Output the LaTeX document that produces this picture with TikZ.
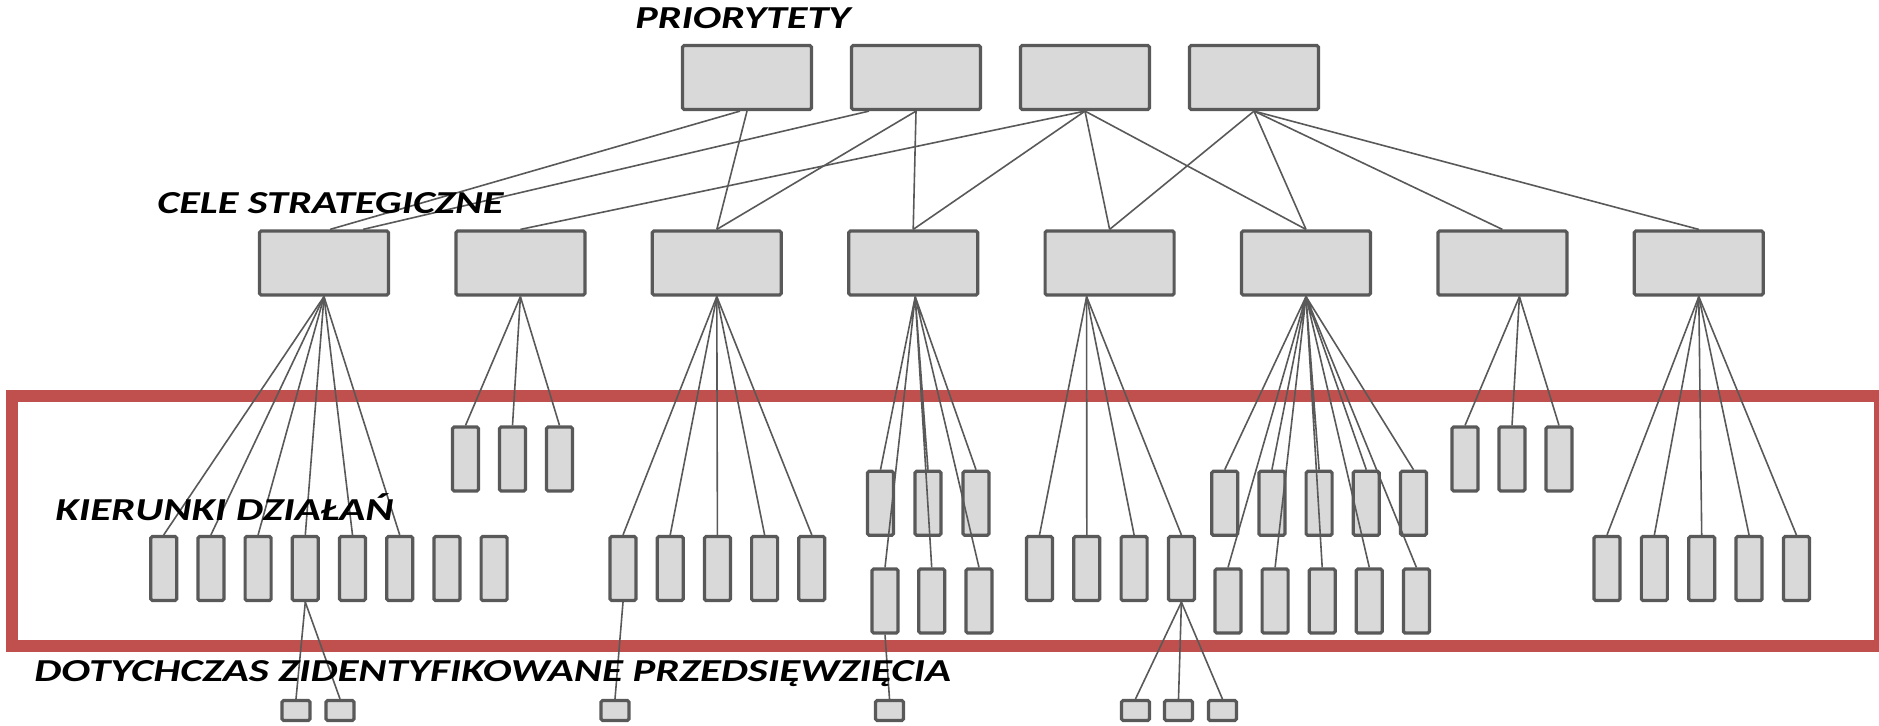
\documentclass[tikz,border=0pt]{standalone}
\usepackage{fontspec}
\usepackage{graphicx}
\newfontfamily\lblfont{Carlito}
\definecolor{boxfill}{HTML}{D9D9D9}
\definecolor{boxline}{HTML}{595959}
\definecolor{frame}{HTML}{C0504D}

\begin{document}
\begin{tikzpicture}[x=0.5pt, y=-0.5pt,
    box/.style={draw=boxline, fill=boxfill, line width=1.6pt, rounded corners=0.8pt, inner sep=0pt},
    big/.style={box, minimum width=64.5pt, minimum height=32pt},
    act/.style={box, minimum width=13pt, minimum height=32pt},
    proj/.style={box, minimum width=14pt, minimum height=10pt},
    link/.style={draw=boxline, line width=0.8pt},
    lbl/.style={anchor=base west, inner sep=0pt, font=\lblfont\bfseries\itshape\fontsize{16}{19}\selectfont}]
  \useasboundingbox (0,0) rectangle (1879,725);

  % frame round the KIERUNKI level
  \draw[frame, line width=5.75pt] (12,396) rectangle (1880,646);

  % priorities and strategic goals
  \foreach \i/\x in {1/747, 2/916, 3/1085, 4/1254}
    \node[big] (prio\i) at (\x,77.5) {};
  \foreach \i in {1,...,8}
    \node[big] (cel\i) at ({324+196.4*(\i-1)},263) {};

  % action lines
  \foreach \i in {1,...,8}
    \node[act] (kd1-\i) at ({163.7+47.2*(\i-1)},568.5) {};
  \foreach \i in {1,...,3}
    \node[act] (kd2-\i) at ({465.5+47*(\i-1)},459) {};
  \foreach \i in {1,...,5}
    \node[act] (kd3-\i) at ({623+47.2*(\i-1)},568.5) {};
  \foreach \i/\x in {1/880.5, 2/928, 3/976}
    \node[act] (kd4a-\i) at (\x,503.3) {};
  \foreach \i/\x in {1/885, 2/931.7, 3/979}
    \node[act] (kd4b-\i) at (\x,601) {};
  \foreach \i in {1,...,4}
    \node[act] (kd5-\i) at ({1039.5+47.3*(\i-1)},568.5) {};
  \foreach \i in {1,...,5}
    \node[act] (kd6a-\i) at ({1224.7+47.2*(\i-1)},503.3) {};
  \foreach \i in {1,...,5}
    \node[act] (kd6b-\i) at ({1228+47.1*(\i-1)},601) {};
  \foreach \i in {1,...,3}
    \node[act] (kd7-\i) at ({1465+47*(\i-1)},459) {};
  \foreach \i in {1,...,5}
    \node[act] (kd8-\i) at ({1607+47.35*(\i-1)},568.5) {};

  % projects
  \foreach \i/\x in {1/296, 2/340, 3/615, 4/889.5, 5/1135.5, 6/1178.5, 7/1222.4}
    \node[proj] (prz\i) at (\x,710.5) {};

  % priorities -> goals
  \draw[link] ([xshift=-3.5pt]prio1.south) -- ([xshift=3pt]cel1.north);
  \draw[link] ([xshift=-23.5pt]prio2.south) -- ([xshift=19.5pt]cel1.north);
  \foreach \a/\b in {prio1/cel3, prio2/cel3, prio2/cel4, prio3/cel2, prio3/cel4, prio3/cel5,
                     prio3/cel6, prio4/cel5, prio4/cel6, prio4/cel7, prio4/cel8}
    \draw[link] (\a.south) -- (\b.north);

  % goals -> action lines
  \foreach \i in {1,...,6}
    \draw[link] (cel1.south) -- (kd1-\i.north);
  \foreach \i in {1,...,3}
    \draw[link] (cel2.south) -- (kd2-\i.north);
  \foreach \i in {1,...,5}
    \draw[link] (cel3.south) -- (kd3-\i.north);
  \foreach \i in {1,...,3}
    \draw[link] ([xshift=1pt]cel4.south) -- (kd4a-\i.north)
                ([xshift=1pt]cel4.south) -- (kd4b-\i.north);
  \foreach \i in {1,...,4}
    \draw[link] ([xshift=-11.5pt]cel5.south) -- (kd5-\i.north);
  \foreach \i in {1,...,5}
    \draw[link] (cel6.south) -- (kd6a-\i.north)
                (cel6.south) -- (kd6b-\i.north);
  \foreach \i in {1,...,3}
    \draw[link] ([xshift=8.5pt]cel7.south) -- (kd7-\i.north);
  \foreach \i in {1,...,5}
    \draw[link] (cel8.south) -- (kd8-\i.north);

  % action lines -> projects
  \draw[link] (kd1-4.south) -- (prz1.north);
  \draw[link] (kd1-4.south) -- (prz2.north);
  \draw[link] (kd3-1.south) -- (prz3.north);
  \draw[link] (kd4b-1.south) -- (prz4.north);
  \foreach \i in {5,6,7}
    \draw[link] (kd5-4.south) -- (prz\i.north);

  % level names
  \node[lbl] (tprio) at (635,28) {\scalebox{1.32}[1]{PRIORYTETY}};
  \node[lbl] (tcel) at (157,213) {\scalebox{1.32}[1]{CELE STRATEGICZNE}};
  \node[lbl] (tkd) at (55,520) {\scalebox{1.34}[1]{KIERUNKI DZIAŁAŃ}};
  \node[lbl] (tprz) at (34,681) {\scalebox{1.34}[1]{DOTYCHCZAS ZIDENTYFIKOWANE PRZEDSIĘWZIĘCIA}};
\end{tikzpicture}
\end{document}
